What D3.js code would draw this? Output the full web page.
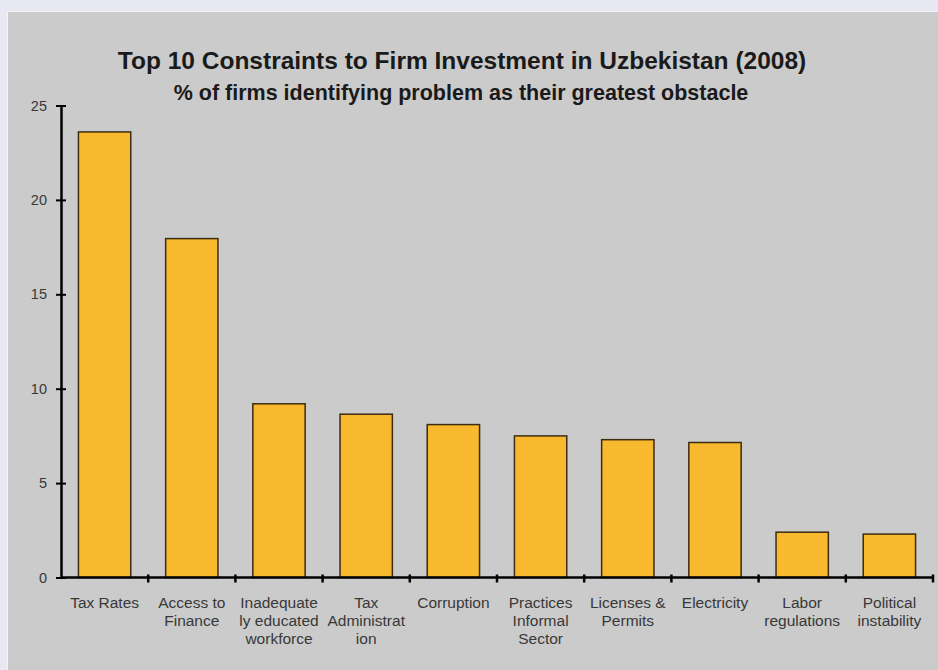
<!DOCTYPE html>
<html><head><meta charset="utf-8">
<script src="https://cdn.jsdelivr.net/npm/d3@7"></script>
<style>body{margin:0;background:#e8e8f3;}svg{display:block;}</style>
</head><body>
<svg id="c" width="938" height="670"></svg>
<script>
const categories = ["Tax Rates","Access to Finance","Inadequately educated workforce","Tax Administration","Corruption","Practices Informal Sector","Licenses & Permits","Electricity","Labor regulations","Political instability"];
const labelLines = [["Tax Rates"],["Access to","Finance"],["Inadequate","ly educated","workforce"],["Tax","Administrat","ion"],["Corruption"],["Practices","Informal","Sector"],["Licenses &","Permits"],["Electricity"],["Labor","regulations"],["Political","instability"]];
const values = [23.6, 17.95, 9.2, 8.65, 8.1, 7.5, 7.3, 7.15, 2.4, 2.3];
const yTicks = [0,5,10,15,20,25];
const title = "Top 10 Constraints to Firm Investment in Uzbekistan (2008)";
const subtitle = "% of firms identifying problem as their greatest obstacle";

const svg = d3.select("#c");
svg.append("rect").attr("x",0).attr("y",0).attr("width",938).attr("height",670).attr("fill","#e8e8f3");
svg.append("rect").attr("x",7.5).attr("y",11.5).attr("width",940).attr("height",670).attr("fill","#cbcbcb").attr("stroke","#f4f4f8").attr("stroke-width",1);

const x0 = 61, x1 = 933, yBase = 577.5, yTop = 105.5;
const x = d3.scaleBand().domain(categories).range([x0,x1]).paddingInner(0.4).paddingOuter(0.2);
const y = d3.scaleLinear().domain([0,25]).range([yBase,yTop]);
const font = "'Liberation Sans', Arial, sans-serif";

svg.append("text").attr("x",462).attr("y",69).attr("text-anchor","middle")
  .attr("font-family",font).attr("font-weight","bold").attr("font-size",24.5).attr("fill","#1a1a1a").text(title);
svg.append("text").attr("x",461).attr("y",100).attr("text-anchor","middle")
  .attr("font-family",font).attr("font-weight","bold").attr("font-size",21.5).attr("fill","#1a1a1a").text(subtitle);

svg.append("g").selectAll("rect").data(values).join("rect")
  .attr("x",(d,i)=>x(categories[i])).attr("width",x.bandwidth())
  .attr("y",d=>y(d)).attr("height",d=>yBase-y(d))
  .attr("fill","#f8b92f").attr("stroke","#3b2c12").attr("stroke-width",1.5);

// Y axis
const ya = svg.append("g").attr("transform",`translate(${x0},0)`)
  .call(d3.axisLeft(y).tickValues(yTicks).tickSize(0).tickPadding(14));
ya.select(".domain").attr("stroke","#000").attr("stroke-width",2.5);
ya.selectAll("text").attr("font-family",font).attr("font-size",14.5).attr("fill","#383838");
ya.selectAll(".tick").append("line").attr("x1",-5).attr("x2",5).attr("stroke","#000").attr("stroke-width",2);

// X axis
const xa = svg.append("g").attr("transform",`translate(0,${yBase})`);
xa.append("line").attr("x1",x0).attr("x2",x1).attr("stroke","#000").attr("stroke-width",2.5);
const bounds = d3.range(categories.length+1).map(i=>x0 + i*(x1-x0)/categories.length);
xa.selectAll("line.t").data(bounds.slice(1)).join("line").attr("class","t")
  .attr("x1",d=>d).attr("x2",d=>d).attr("y1",-3).attr("y2",5).attr("stroke","#000").attr("stroke-width",2.5);

const lab = svg.append("g").selectAll("text").data(labelLines).join("text")
  .attr("text-anchor","middle").attr("font-family",font).attr("font-size",15.5).attr("fill","#383838");
lab.each(function(lines,i){
  const cx = x(categories[i]) + x.bandwidth()/2;
  d3.select(this).selectAll("tspan").data(lines).join("tspan")
    .attr("x",cx).attr("y",(d,j)=>608+j*18).text(d=>d);
});
</script>
</body></html>
